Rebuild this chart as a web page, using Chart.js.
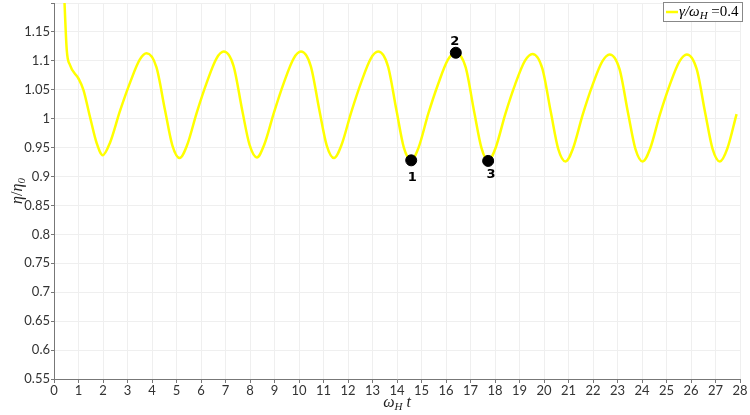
<!DOCTYPE html>
<html>
<head>
<meta charset="utf-8">
<script src="https://cdn.jsdelivr.net/npm/chart.js@4/dist/chart.umd.min.js"></script>
<style>
  body { margin: 0; background: #fff; }
</style>
</head>
<body>
<canvas id="etaChart" width="750" height="415"></canvas>
<script>
// omega_H t and eta/eta0
const times = [
  0.40, 0.52, 0.65, 0.99, 1.20, 1.47, 1.74, 1.99,
  2.29, 2.69, 3.10, 3.50, 3.78, 4.18, 4.53, 4.83, 5.13,
  5.43, 5.83, 6.23, 6.63, 6.93, 7.33, 7.68, 7.98, 8.28,
  8.58, 8.98, 9.38, 9.78, 10.08, 10.48, 10.83, 11.13, 11.43,
  11.73, 12.13, 12.53, 12.93, 13.23, 13.63, 13.98, 14.28, 14.58,
  14.88, 15.28, 15.68, 16.08, 16.40, 16.80, 17.15, 17.45, 17.72,
  18.02, 18.42, 18.82, 19.22, 19.53, 19.93, 20.28, 20.58, 20.88,
  21.18, 21.58, 21.98, 22.38, 22.68, 23.08, 23.43, 23.73, 24.03,
  24.33, 24.73, 25.13, 25.53, 25.83, 26.23, 26.58, 26.88, 27.18,
  27.48, 27.86
];
const eta = [
  1.230, 1.119, 1.093, 1.070, 1.050, 1.003, 0.958, 0.937,
  0.959, 1.013, 1.062, 1.102, 1.113, 1.089, 1.015, 0.954, 0.932,
  0.954, 1.011, 1.062, 1.104, 1.116, 1.091, 1.015, 0.955, 0.933,
  0.955, 1.011, 1.062, 1.104, 1.116, 1.091, 1.015, 0.954, 0.932,
  0.954, 1.011, 1.062, 1.104, 1.116, 1.091, 1.014, 0.950, 0.928,
  0.950, 1.009, 1.060, 1.102, 1.114, 1.089, 1.012, 0.949, 0.927,
  0.949, 1.008, 1.059, 1.100, 1.112, 1.087, 1.011, 0.948, 0.926,
  0.948, 1.007, 1.058, 1.099, 1.111, 1.086, 1.010, 0.948, 0.926,
  0.948, 1.007, 1.058, 1.099, 1.111, 1.086, 1.010, 0.948, 0.926,
  0.948, 1.008
];

// marked states
const markT = [14.58, 16.40, 17.72];
const markEta = [0.928, 1.114, 0.927];
const markLabels = ['1', '2', '3'];

const xTicks = { min: 0, max: 28, step: 1 };
const yTicks = { min: 0.55, max: 1.2, step: 0.05 };

const tickFont = { family: 'Lato', size: 13 };

// draw a run of text pieces (for sub-scripts)
function drawRich(ctx, pieces, x, y, align) {
  let total = 0;
  pieces.forEach(p => { ctx.font = p.font; total += ctx.measureText(p.text).width; });
  let cx = align === 'center' ? x - total / 2 : x;
  pieces.forEach(p => {
    ctx.font = p.font;
    ctx.fillText(p.text, cx, y + (p.dy || 0));
    cx += ctx.measureText(p.text).width;
  });
}

const extras = {
  id: 'extras',
  afterDraw(chart) {
    const ctx = chart.ctx;
    const xs = chart.scales.x, ys = chart.scales.y;
    ctx.save();
    ctx.fillStyle = '#000';
    ctx.textBaseline = 'alphabetic';
    ctx.textAlign = 'left';

    // point labels
    ctx.font = 'bold 13px "DejaVu Sans"';
    const offs = [[1, 21], [-1, -8], [3, 17]];
    markT.forEach((t, i) => {
      const px = xs.getPixelForValue(t), py = ys.getPixelForValue(markEta[i]);
      const w = ctx.measureText(markLabels[i]).width;
      ctx.fillText(markLabels[i], px - w / 2 + offs[i][0], py + offs[i][1]);
    });

    const it = 'italic 16px "Liberation Serif"';
    const itSub = 'italic 11px "Liberation Serif"';
    const up = '16px "Liberation Serif"';

    // x title
    ctx.fillStyle = '#222';
    drawRich(ctx, [
      { text: 'ω', font: it }, { text: 'H', font: itSub, dy: 3 }, { text: ' t', font: it }
    ], (xs.left + xs.right) / 2, 407, 'center');

    // y title
    ctx.save();
    ctx.translate(22, (ys.top + ys.bottom) / 2);
    ctx.rotate(-Math.PI / 2);
    drawRich(ctx, [
      { text: 'η', font: it }, { text: '/', font: up }, { text: 'η', font: it }, { text: '0', font: itSub, dy: 3 }
    ], 0, 0, 'center');
    ctx.restore();

    // legend
    const lx = 663, ly = 2, lw = 79, lh = 19;
    const lt = 'italic 15px "Liberation Serif"';
    ctx.fillStyle = '#fff';
    ctx.fillRect(lx, ly, lw, lh);
    ctx.strokeStyle = '#888';
    ctx.lineWidth = 1;
    ctx.strokeRect(lx + 0.5, ly + 0.5, lw, lh);
    ctx.strokeStyle = '#ffff00';
    ctx.lineWidth = 2.5;
    ctx.beginPath();
    ctx.moveTo(lx + 3, ly + 10);
    ctx.lineTo(lx + 15, ly + 10);
    ctx.stroke();
    ctx.fillStyle = '#000';
    drawRich(ctx, [
      { text: 'γ/ω', font: lt }, { text: 'H', font: itSub, dy: 3 }, { text: ' =0.4', font: '15px "Liberation Serif"' }
    ], lx + 16, ly + 14, 'left');
    ctx.restore();
  }
};

const data = {
  datasets: [
    {
      label: 'γ/ω_H =0.4',
      data: times.map((t, i) => ({ x: t, y: eta[i] })),
      borderColor: '#ffff00',
      borderWidth: 2.5,
      pointRadius: 0,
      cubicInterpolationMode: 'monotone',
      fill: false,
      order: 2
    },
    {
      label: 'states',
      data: markT.map((t, i) => ({ x: t, y: markEta[i] })),
      showLine: false,
      pointRadius: 5.5,
      pointBackgroundColor: '#000',
      pointBorderColor: '#000',
      order: 1
    }
  ]
};

const config = {
  type: 'line',
  data: data,
  plugins: [extras],
  options: {
    responsive: false,
    devicePixelRatio: 1,
    animation: false,
    layout: { autoPadding: false, padding: { top: 3, right: 10, left: 0, bottom: 0 } },
    plugins: { legend: { display: false }, tooltip: { enabled: false } },
    scales: {
      x: {
        type: 'linear',
        min: xTicks.min,
        max: xTicks.max,
        afterFit: s => { s.height = 36; },
        ticks: { stepSize: xTicks.step, font: tickFont, color: '#333', padding: 0, maxRotation: 0 },
        grid: { color: '#efefef', tickColor: '#777', tickLength: 4 },
        border: { color: '#777' }
      },
      y: {
        min: yTicks.min,
        max: yTicks.max,
        afterFit: s => { s.width = 54; },
        ticks: {
          stepSize: yTicks.step,
          // the top tick is unlabelled, keep it from reserving room
          font: c => (c.tick && c.tick.value > 1.19) ? { family: 'Lato', size: 1 } : tickFont,
          color: '#333',
          padding: 1,
          callback: v => v > 1.19 ? '' : String(Math.round(v * 100) / 100)
        },
        grid: { color: '#efefef', tickColor: '#777', tickLength: 3 },
        border: { color: '#777' }
      }
    }
  }
};

const etaChart = new Chart(document.getElementById('etaChart'), config);
</script>
</body>
</html>
